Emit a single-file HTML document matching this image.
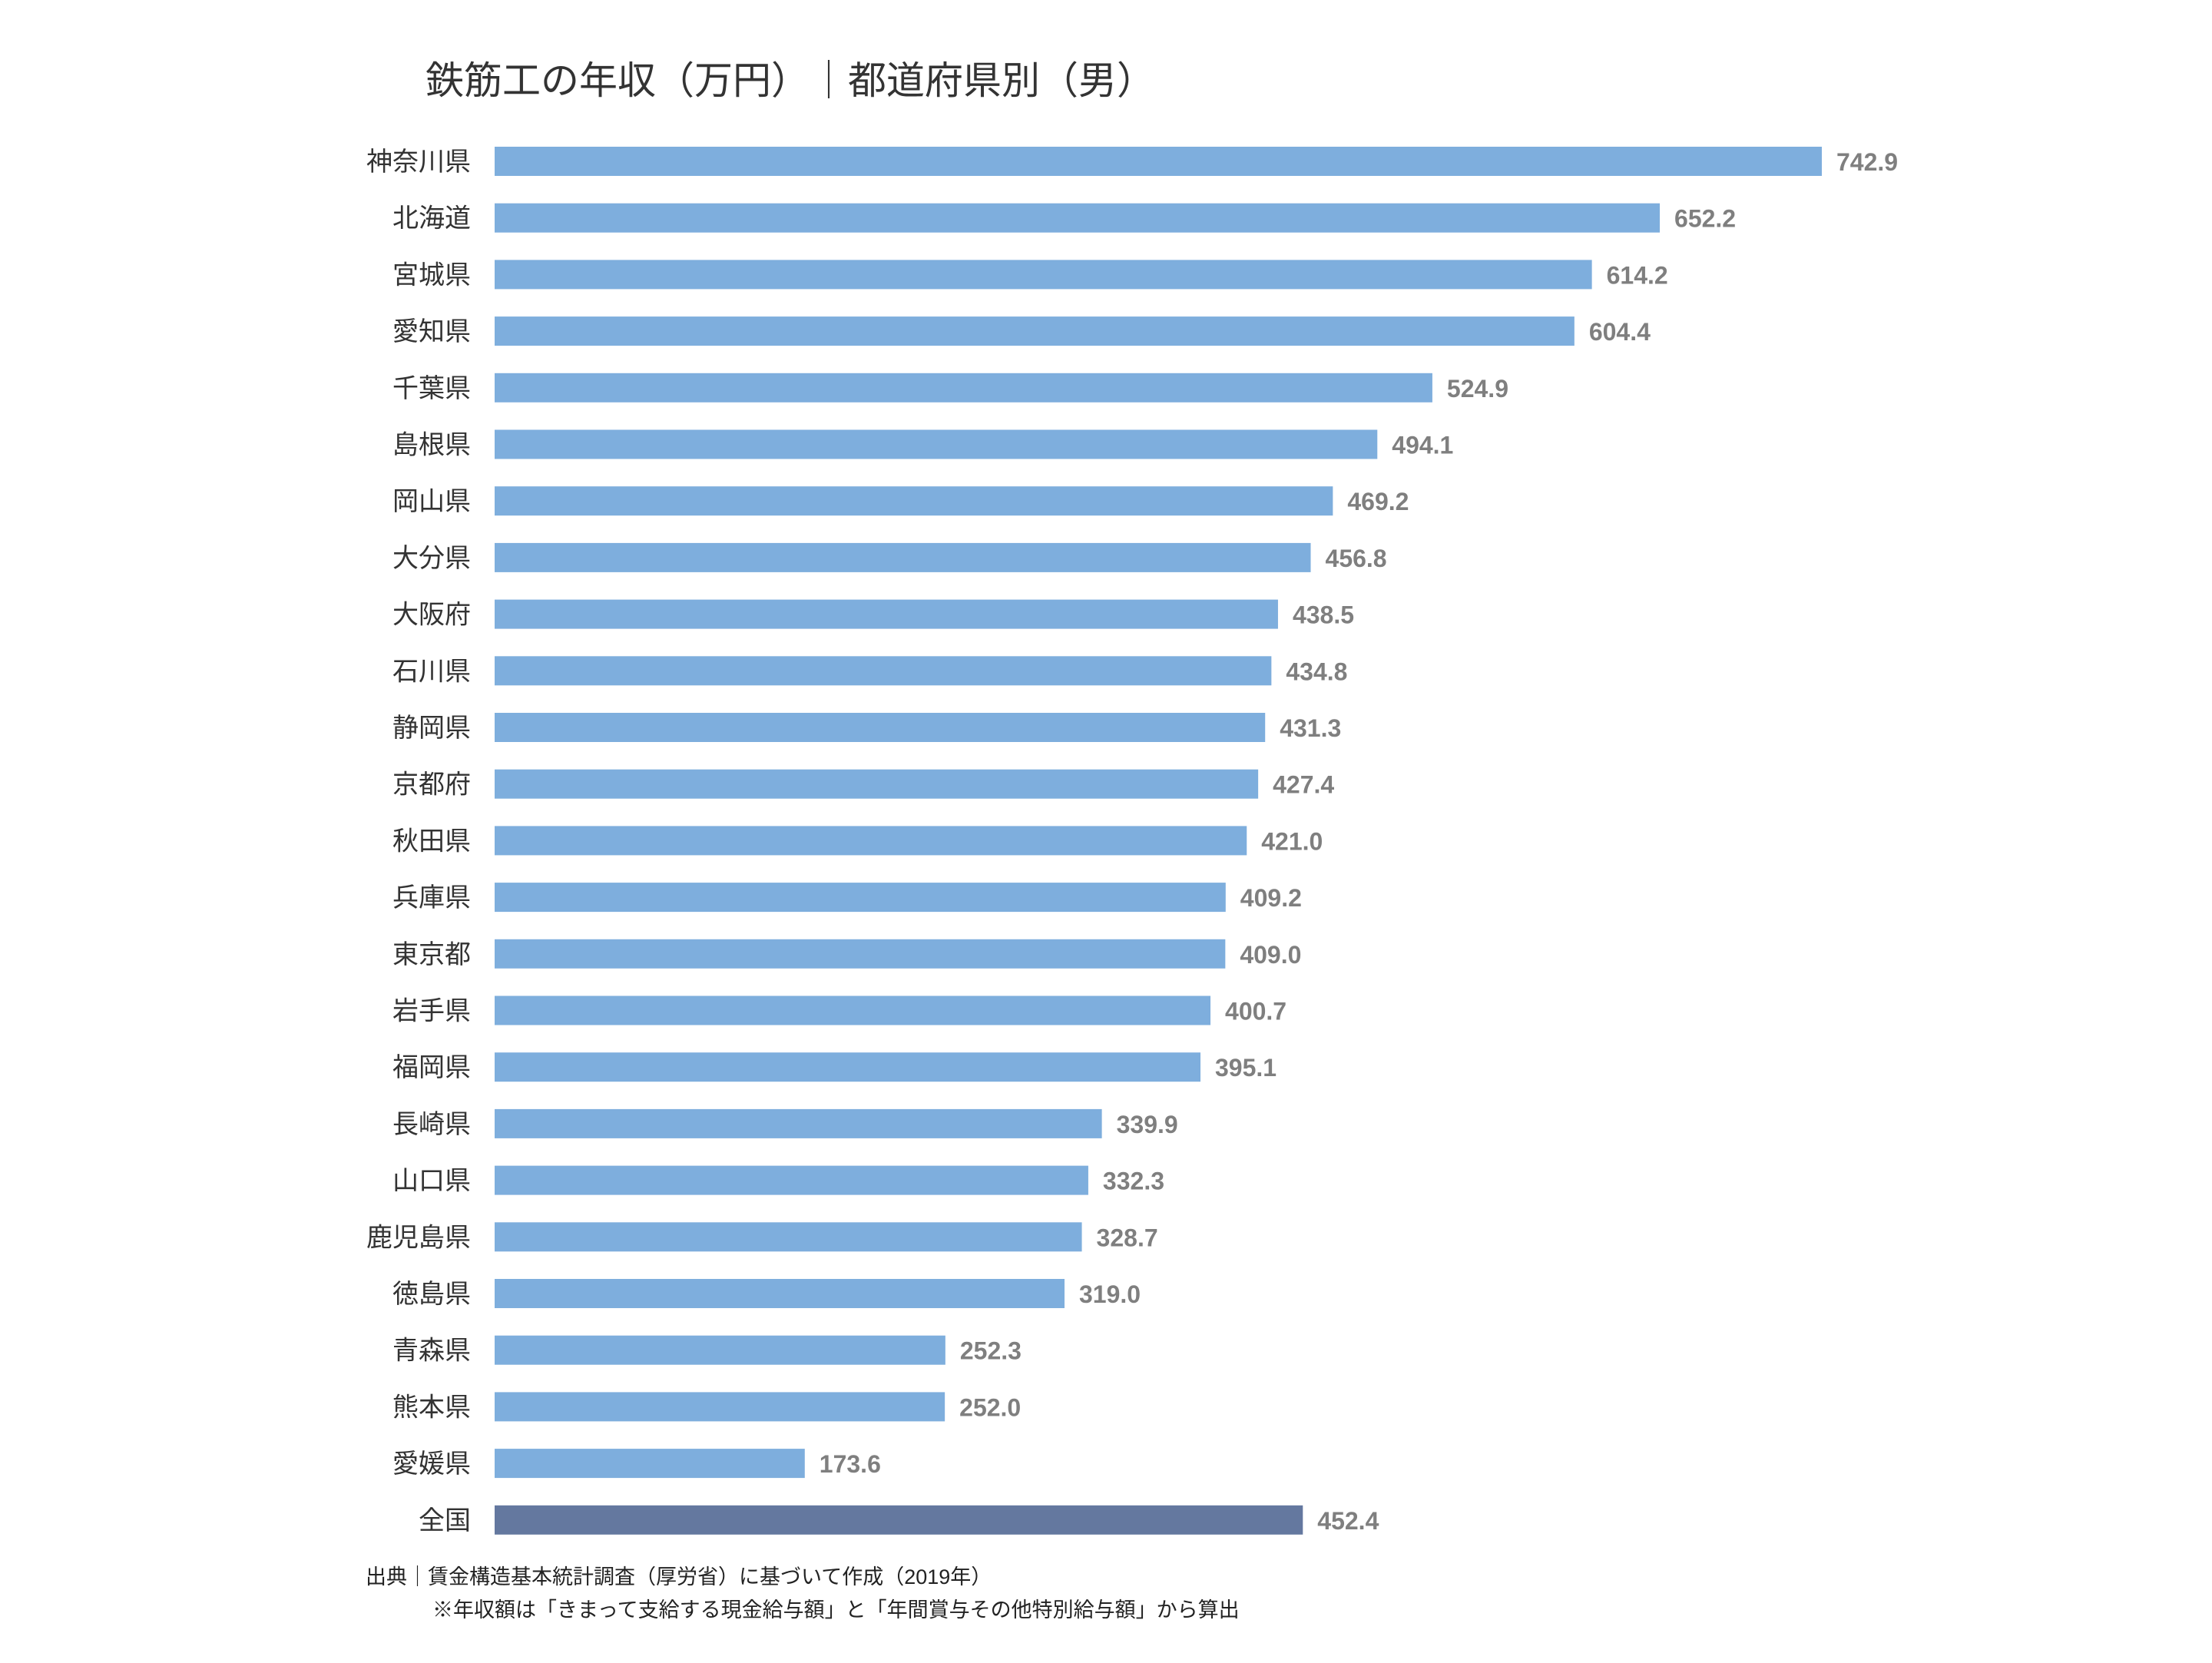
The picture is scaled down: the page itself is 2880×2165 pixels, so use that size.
<!DOCTYPE html>
<html><head><meta charset="utf-8"><style>
body{margin:0;background:#fff;}
svg text{font-family:"Liberation Sans","Noto Sans CJK JP",sans-serif;}
</style></head><body>
<svg id="chart" width="2880" height="2160" viewBox="0 0 2880 2160" xmlns="http://www.w3.org/2000/svg">
<rect width="2880" height="2160" fill="#fff"/>
<text x="554" y="122" font-size="50" fill="#333">鉄筋工の年収（万円）｜都道府県別（男）</text>
<g id="bars"></g>
<text x="476" y="2062" font-size="27" fill="#222">出典｜賃金構造基本統計調査（厚労省）に基づいて作成（2019年）</text>
<text x="563" y="2105" font-size="27" fill="#222">※年収額は「きまって支給する現金給与額」と「年間賞与その他特別給与額」から算出</text>
</svg>
<script>
const categories=["神奈川県","北海道","宮城県","愛知県","千葉県","島根県","岡山県","大分県","大阪府","石川県","静岡県","京都府","秋田県","兵庫県","東京都","岩手県","福岡県","長崎県","山口県","鹿児島県","徳島県","青森県","熊本県","愛媛県","全国"];
const values=[742.9,652.2,614.2,604.4,524.9,494.1,469.2,456.8,438.5,434.8,431.3,427.4,421.0,409.2,409.0,400.7,395.1,339.9,332.3,328.7,319.0,252.3,252.0,173.6,452.4];
const x0=644, scale=2.326, y0=210, step=73.7, bh=38;
const xs=v=>x0+v*scale;
const ys=i=>y0+i*step;
const g=document.getElementById('bars');
const NS="http://www.w3.org/2000/svg";
categories.forEach((c,i)=>{
  const cy=ys(i);
  const r=document.createElementNS(NS,'rect');
  
  
  r.setAttribute('x',x0);r.setAttribute('y',cy-bh/2);
  r.setAttribute('width',xs(values[i])-x0);r.setAttribute('height',bh);
  r.setAttribute('fill',c==="全国"?"#64789f":"#7eaedd");
  g.appendChild(r);
  const t=document.createElementNS(NS,'text');
  
  
  t.setAttribute('x',613);t.setAttribute('y',cy+12);
  t.setAttribute('text-anchor','end');t.setAttribute('font-size','34');t.setAttribute('fill','#333');
  t.textContent=c;g.appendChild(t);
  const v=document.createElementNS(NS,'text');
  
  
  v.setAttribute('x',xs(values[i])+19);v.setAttribute('y',cy+12);
  v.setAttribute('font-size','32');v.setAttribute('font-weight','bold');v.setAttribute('fill','#7f7f7f');
  v.textContent=values[i].toFixed(1);g.appendChild(v);
});
</script>
</body></html>
